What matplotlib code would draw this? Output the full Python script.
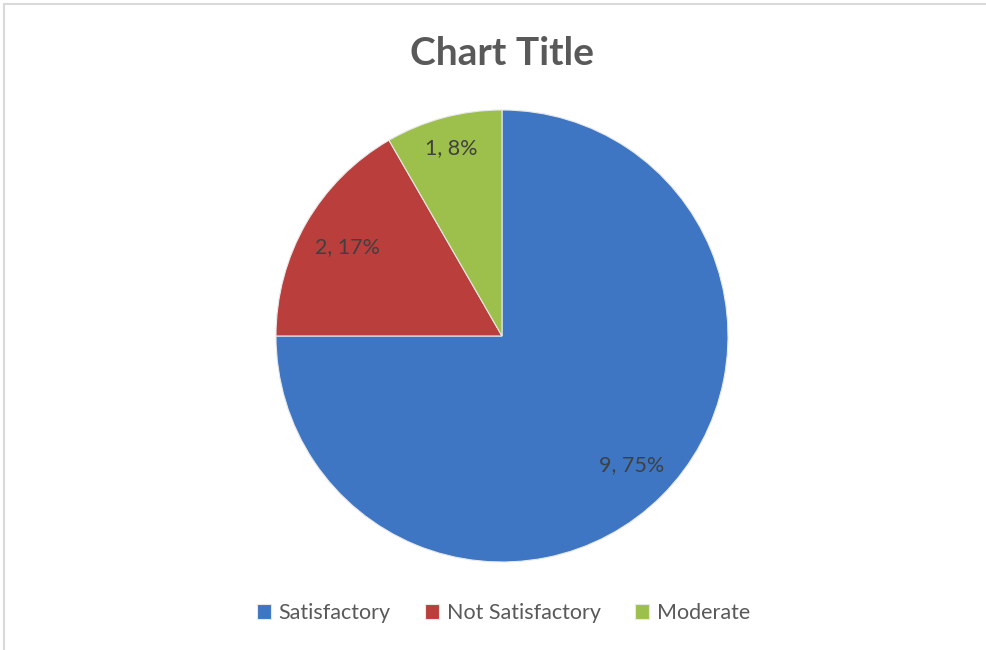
import numpy as np
import matplotlib.pyplot as plt
from matplotlib.patches import Rectangle

categories = ['Satisfactory', 'Not Satisfactory', 'Moderate']
values = [9, 2, 1]
colors = ['#3E76C4', '#BA3E3B', '#9DC04C']
label_dist = [0.81, 0.79, 0.86]

plt.rcParams['font.family'] = ['Lato', 'DejaVu Sans']

fig = plt.figure(figsize=(9.87, 6.5), dpi=100)

# light grey chart border
fig.add_artist(Rectangle((0.004, -0.01), 1.2, 1.0 - 0.006 + 0.01, transform=fig.transFigure,
                         fill=False, edgecolor='#D9D9D9', linewidth=1.5))

ax = fig.add_axes([0.2796, 0.1354, 0.458, 0.6954])
wedges, _ = ax.pie(values, colors=colors, startangle=90, counterclock=False,
                   wedgeprops=dict(edgecolor='#E8E8E8', linewidth=0.8))
ax.set_aspect('equal')
ax.set_xlim(-1, 1)
ax.set_ylim(-1, 1)

total = sum(values)
for w, v, r in zip(wedges, values, label_dist):
    mid = np.deg2rad((w.theta1 + w.theta2) / 2)
    ax.text(r * np.cos(mid), r * np.sin(mid), f"{v}, {round(100 * v / total)}%",
            ha='center', va='center', fontsize=15.5, color='#404040')

fig.text(0.509, 0.918, 'Chart Title', ha='center', va='center',
         fontsize=28, fontweight='bold', color='#595959')

fig.legend(wedges, categories, loc='center', bbox_to_anchor=(0.51, 0.057), ncol=3,
           frameon=False, fontsize=15.5, handlelength=0.65, handleheight=0.65,
           handletextpad=0.35, columnspacing=1.6, labelcolor='#595959')

fig.savefig('out.png', dpi=100)
